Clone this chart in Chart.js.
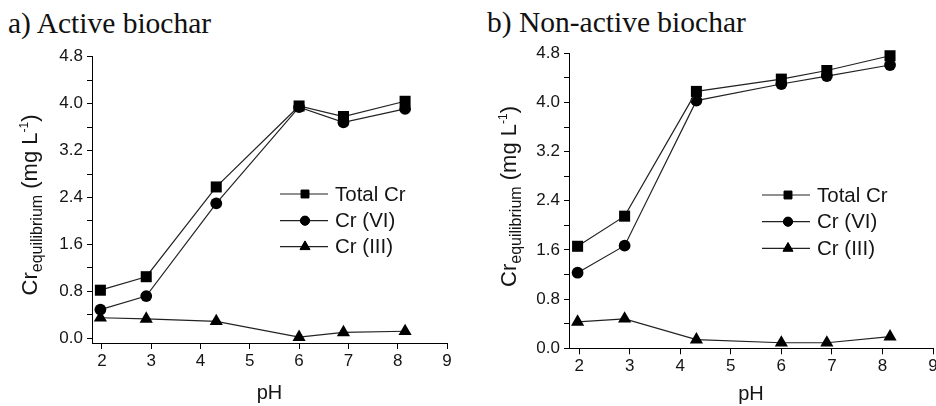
<!DOCTYPE html>
<html><head><meta charset="utf-8">
<script src="https://cdn.jsdelivr.net/npm/chart.js@4.4.0/dist/chart.umd.min.js"></script>
<style>
html,body{margin:0;padding:0;background:#fff;overflow:hidden;width:936px;height:406px;position:relative;}
#c1{position:absolute;left:0;top:0;}
#c2{position:absolute;left:466px;top:0;}
.ttl{position:absolute;font-family:"Liberation Serif","Times New Roman",serif;font-size:29.5px;color:#111;white-space:nowrap;line-height:1;}
</style></head><body>
<div class="ttl" style="left:8px;top:9px">a) Active biochar</div>
<div class="ttl" style="left:487px;top:8.3px">b) Non-active biochar</div>
<canvas id="c1" width="466" height="406"></canvas>
<canvas id="c2" width="500" height="406"></canvas>
<script>
// ---- data ----
const pH = [1.97, 2.9, 4.32, 6.0, 6.9, 8.15];
const seriesNames = ['Total Cr', 'Cr (VI)', 'Cr (III)'];
const activeTotal = [0.82, 1.05, 2.58, 3.96, 3.78, 4.04];
const activeVI    = [0.49, 0.72, 2.30, 3.94, 3.68, 3.91];
const activeIII   = [0.35, 0.33, 0.29, 0.02, 0.10, 0.12];
const nonTotal = [1.66, 2.15, 4.18, 4.38, 4.52, 4.76];
const nonVI    = [1.23, 1.67, 4.03, 4.30, 4.43, 4.61];
const nonIII   = [0.43, 0.48, 0.14, 0.09, 0.09, 0.19];
const xTicks = [2, 3, 4, 5, 6, 7, 8, 9];
const yMajor = [0.0, 0.8, 1.6, 2.4, 3.2, 4.0, 4.8];
const yMinor = [0.4, 1.2, 2.0, 2.8, 3.6, 4.4];
const yTickLabels = ['0.0', '0.8', '1.6', '2.4', '3.2', '4.0', '4.8'];

const SANS = '"Liberation Sans", Arial, sans-serif';
const INK = '#151515';

function pts(ys){ return pH.map((x,i)=>({x:x, y:ys[i]})); }

function drawMarker(ctx, style, r, x, y){
  if (Chart.helpers && Chart.helpers.drawPoint) {
    Chart.helpers.drawPoint(ctx, {pointStyle: style, radius: r, rotation: 0, borderWidth: 1}, x, y);
    ctx.fill();
  }
}

const lineLegend = {
  id: 'lineLegend',
  afterDraw(chart, args, o){
    const ctx = chart.ctx;
    ctx.save();
    chart.data.datasets.forEach((ds, i) => {
      const y = o.rows[i];
      ctx.strokeStyle = '#222'; ctx.lineWidth = 1.2;
      ctx.beginPath(); ctx.moveTo(o.x1, y); ctx.lineTo(o.x2, y); ctx.stroke();
      ctx.fillStyle = '#000'; ctx.strokeStyle = '#000'; ctx.lineWidth = 1;
      drawMarker(ctx, ds.pointStyle, o.radii[i], o.mx, y);
      ctx.fillStyle = INK;
      ctx.font = o.size + 'px ' + SANS;
      ctx.textBaseline = 'middle'; ctx.textAlign = 'left';
      ctx.fillText(ds.label, o.tx, y + 1);
    });
    ctx.restore();
  }
};

const yLabel = {
  id: 'yLabel',
  afterDraw(chart, args, o){
    const ctx = chart.ctx;
    const parts = [
      {t: 'Cr', s: o.main, dy: 0},
      {t: 'equilibrium', s: o.sub, dy: o.subDy},
      {t: ' (mg L', s: o.main, dy: 0},
      {t: '-1', s: o.sup, dy: o.supDy},
      {t: ')', s: o.main, dy: 0}
    ];
    ctx.save();
    ctx.translate(o.x, o.y);
    ctx.rotate(-Math.PI/2);
    let total = 0;
    parts.forEach(p => { ctx.font = p.s + 'px ' + SANS; p.w = ctx.measureText(p.t).width; total += p.w; });
    let x = -total/2;
    ctx.fillStyle = INK; ctx.textBaseline = 'alphabetic'; ctx.textAlign = 'left';
    parts.forEach(p => { ctx.font = p.s + 'px ' + SANS; ctx.fillText(p.t, x, p.dy); x += p.w; });
    ctx.restore();
  }
};

function makeChart(id, data3, L){
  const styles = ['rect', 'circle', 'triangle'];
  const radii = [7.8, 5.9, 7.6];
  const datasets = data3.map((ys, i) => ({
    label: seriesNames[i],
    data: pts(ys),
    borderColor: '#222', borderWidth: 1.2,
    pointStyle: styles[i], pointRadius: radii[i],
    pointBackgroundColor: '#000', pointBorderColor: '#000', pointBorderWidth: 0,
    showLine: true, tension: 0, clip: false
  }));
  const allY = yMajor.concat(yMinor).sort((a,b)=>a-b);
  return new Chart(document.getElementById(id), {
    type: 'line',
    data: {datasets},
    plugins: [lineLegend, yLabel],
    options: {
      responsive: false, animation: false, events: [],
      layout: {padding: {left: 0, right: L.padR, top: L.top, bottom: 0}},
      plugins: {
        legend: {display: false}, tooltip: {enabled: false},
        lineLegend: L.legend,
        yLabel: L.ylab
      },
      scales: {
        x: {
          type: 'linear', min: 1.8, max: 9,
          afterBuildTicks: s => { s.ticks = xTicks.map(v => ({value: v})); },
          afterFit: s => { s.height = L.xH; },
          border: {color: '#000', width: 1},
          grid: {drawOnChartArea: false, color: '#000', tickColor: '#000', tickLength: 6, lineWidth: 1},
          ticks: {font: {family: SANS, size: 17}, color: INK, padding: 2, maxRotation: 0, autoSkip: false,
                  callback: v => String(v)},
          title: {display: true, text: 'pH', font: {family: SANS, size: 20}, color: INK, padding: {top: 0, bottom: L.pHpad}}
        },
        y: {
          type: 'linear', min: L.ymin, max: 4.8,
          afterBuildTicks: s => { s.ticks = allY.map(v => ({value: v})); },
          afterFit: s => { s.width = L.yW; },
          border: {color: '#000', width: 1},
          grid: {drawOnChartArea: false, color: '#000', tickColor: '#000', tickLength: 5, lineWidth: 1},
          ticks: {font: {family: SANS, size: 17}, color: INK, padding: 4, autoSkip: false,
                  callback: v => { const k = yMajor.findIndex(m => Math.abs(m - v) < 1e-6); return k >= 0 ? yTickLabels[k] : ''; }}
        }
      }
    }
  });
}

makeChart('c1', [activeTotal, activeVI, activeIII], {
  padR: 19, top: 56.7, xH: 63, yW: 92, ymin: -0.08, pHpad: 1,
  legend: {x1: 280, x2: 328, mx: 305, tx: 335, rows: [194, 220.7, 246.7], radii: [5.6, 4.6, 5.8], size: 20.5},
  ylab: {x: 37, y: 205, main: 22, sub: 16, subDy: 5, sup: 12, supDy: -9}
});
makeChart('c2', [nonTotal, nonVI, nonIII], {
  padR: 33, top: 53.3, xH: 57.7, yW: 103, ymin: 0, pHpad: 0,
  legend: {x1: 296, x2: 344, mx: 322, tx: 351, rows: [195, 221.7, 248.3], radii: [5.6, 4.6, 5.8], size: 20.5},
  ylab: {x: 50, y: 196.5, main: 22, sub: 16, subDy: 5, sup: 12, supDy: -9}
});
</script>
</body></html>
